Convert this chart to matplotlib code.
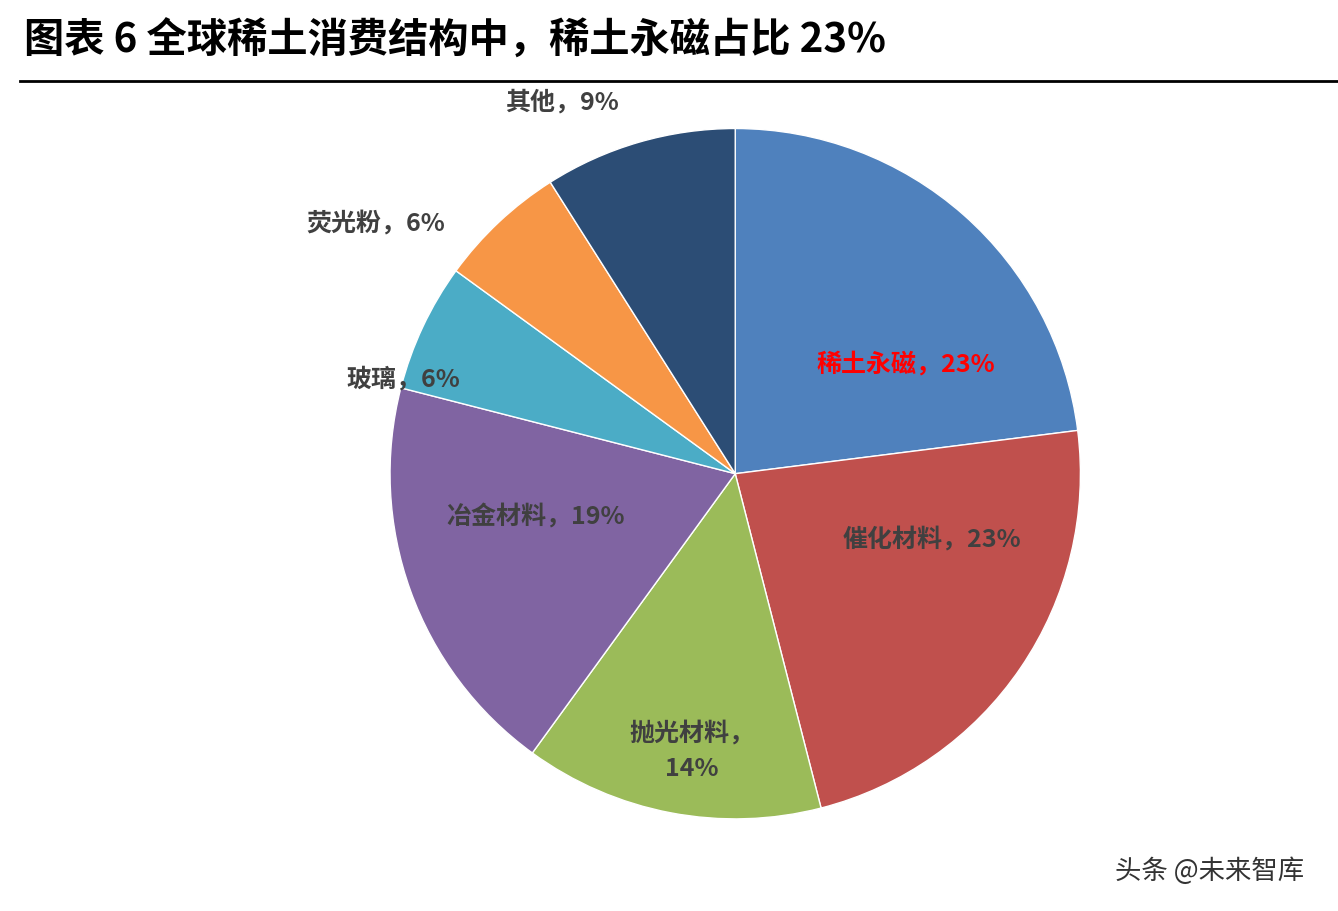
import numpy as np
import matplotlib
matplotlib.use('Agg')
import matplotlib.pyplot as plt

plt.rcParams['font.family'] = ['Noto Sans CJK SC', 'DejaVu Sans']

categories = ['稀土永磁', '催化材料', '抛光材料', '冶金材料', '玻璃', '荧光粉', '其他']
shares = [23, 23, 14, 19, 6, 6, 9]
colors = ['#4F81BD', '#C0504D', '#9BBB59', '#8064A2', '#4BACC6', '#F79646', '#2C4D75']
# label placement (radius fraction, angle in degrees)
label_pos = [(0.59, 33), (0.60, -18), (0.81, -99), (0.59, 192), (1.0, 164), (1.27, 145), (1.19, 115)]

fig = plt.figure(figsize=(13.38, 9.12), dpi=100)
fig.text(0.018, 0.955, '图表 6 全球稀土消费结构中，稀土永磁占比 23%', fontsize=29,
         fontweight='bold', va='center', ha='left')
fig.add_artist(plt.Line2D([0.015, 1.0], [0.91, 0.91], color='black', lw=2))

ax = fig.add_axes([0.2915, 0.101, 0.516, 0.757])
ax.pie(shares, colors=colors, startangle=90, counterclock=False,
       wedgeprops=dict(edgecolor='white', linewidth=1))
ax.set_xlim(-1, 1)
ax.set_ylim(-1, 1)
ax.set_aspect('equal')

for i, (name, val) in enumerate(zip(categories, shares)):
    r, th = label_pos[i]
    x, y = r * np.cos(np.radians(th)), r * np.sin(np.radians(th))
    txt = f'{name}，{val}%'
    if name == '抛光材料':
        txt = f'{name}，\n{val}%'
    col = '#FF0000' if i == 0 else '#404040'
    ax.text(x, y, txt, ha='center', va='center', fontsize=18, fontweight='bold',
            color=col, linespacing=1.6)

fig.text(0.975, 0.045, '头条 @未来智库', fontsize=19, ha='right', va='center', color='#333333')
fig.savefig('out.png', dpi=100)
